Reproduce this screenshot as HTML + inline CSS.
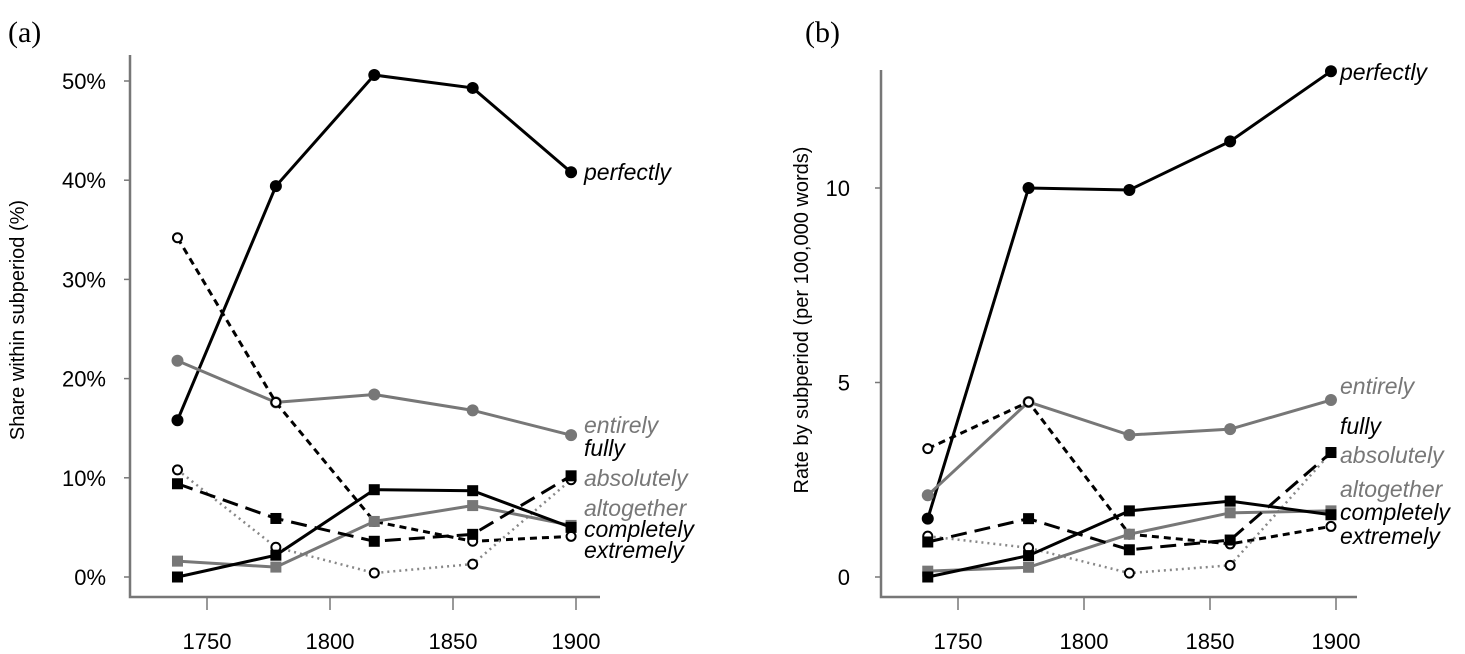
<!DOCTYPE html>
<html><head><meta charset="utf-8"><style>
body{margin:0;background:#fff;}
svg{display:block;font-family:"Liberation Sans",sans-serif;}
</style></head><body>
<svg id="c" width="1465" height="654"></svg>
<script>
const years=[1738,1778,1818,1858,1898];
const tickYears=[1750,1800,1850,1900];
const leftTicks=[0,10,20,30,40,50];
const rightTicks=[0,5,10];
const perfectlyA=[15.8,39.4,50.6,49.3,40.8];
const entirelyA=[21.8,17.6,18.4,16.8,14.3];
const fullyA=[34.2,17.6,5.6,3.6,4.1];
const absolutelyA=[10.8,3.0,0.4,1.3,9.8];
const altogetherA=[1.6,1.0,5.6,7.2,5.2];
const completelyA=[0,2.2,8.8,8.7,5.0];
const extremelyA=[9.4,5.9,3.6,4.3,10.2];
const perfectlyB=[1.5,10.0,9.95,11.2,13.0];
const entirelyB=[2.1,4.5,3.65,3.8,4.55];
const fullyB=[3.3,4.5,1.1,0.85,1.3];
const absolutelyB=[1.05,0.75,0.1,0.3,3.2];
const altogetherB=[0.15,0.25,1.1,1.65,1.7];
const completelyB=[0,0.55,1.7,1.95,1.6];
const extremelyB=[0.9,1.5,0.7,0.95,3.2];

const NS="http://www.w3.org/2000/svg";
const svg=document.getElementById('c');
function mk(t,a,p){const e=document.createElementNS(NS,t);for(const k in a)e.setAttribute(k,a[k]);(p||svg).appendChild(e);return e;}

const styles={
 perfectly:{c:'#000',d:'',m:'dot'},
 entirely:{c:'#777',d:'',m:'dot'},
 fully:{c:'#000',d:'7,5',m:'open'},
 absolutely:{c:'#888',d:'2,4',m:'open'},
 altogether:{c:'#777',d:'',m:'sq'},
 completely:{c:'#000',d:'',m:'sq'},
 extremely:{c:'#000',d:'16,8',m:'sq'}
};

function panel(cfg){
 const g=mk('g',{});
 
 
 const X=y=>cfg.x0+(y-1750)*cfg.xs;
 const Y=v=>cfg.y0-v*cfg.ys;
 const ax=mk('path',{d:`M${cfg.ax},${cfg.top} V597 H${cfg.axEnd}`,stroke:'#777','stroke-width':2.5,fill:'none'},g);
 
 
 tickYears.forEach(t=>{
  mk('line',{x1:X(t),x2:X(t),y1:597,y2:610,stroke:'#777','stroke-width':1.5},g);
  const tx=mk('text',{x:X(t),y:649,'text-anchor':'middle','font-size':22},g);
  tx.textContent=t;
  
  
 });
 cfg.ticks.forEach(t=>{
  mk('line',{x1:cfg.ax-6,x2:cfg.ax,y1:Y(t),y2:Y(t),stroke:'#777','stroke-width':1.5},g);
  const tx=mk('text',{x:cfg.tlx,y:Y(t)+8,'text-anchor':'end','font-size':22},g);
  tx.textContent=t+cfg.suf;
  
  
 });
 const yt=mk('text',{transform:`translate(${cfg.titleX},${cfg.titleY}) rotate(-90)`,'text-anchor':'middle','font-size':20},g);
 yt.textContent=cfg.title;
 
 
 const pl=mk('text',{x:cfg.px,y:42,'font-size':30,'font-family':'"Liberation Serif",serif'},g);
 pl.textContent=cfg.panelLabel;
 
 
 cfg.series.forEach(([nm,arr])=>{
  const s=styles[nm];
  const sg=mk('g',{},g);
  
  
  const pts=arr.map((v,i)=>X(years[i])+','+Y(v)).join(' ');
  const attrs={points:pts,fill:'none',stroke:s.c,'stroke-width':nm=='absolutely'?2.5:3};
  if(s.d)attrs['stroke-dasharray']=s.d;
  mk('polyline',attrs,sg);
  arr.forEach((v,i)=>{
   const cx=X(years[i]),cy=Y(v);let m;
   if(s.m=='dot')m=mk('circle',{cx,cy,r:6,fill:s.c},sg);
   else if(s.m=='open')m=mk('circle',{cx,cy,r:4.5,fill:'#fff',stroke:'#000','stroke-width':2},sg);
   else m=mk('rect',{x:cx-5.5,y:cy-5.5,width:11,height:11,fill:s.c},sg);
   
   
  });
 });
 cfg.labels.forEach(([nm,y,col])=>{
  const t=mk('text',{x:cfg.lx,y:y,'font-size':23,'font-style':'italic',fill:col},g);
  t.textContent=nm;
  
  
 });
}
panel({name:'panel-a',x0:207,xs:123/50,y0:577,ys:9.92,ax:130,axEnd:600,top:55,ticks:leftTicks,suf:'%',tlx:106,
 title:'Share within subperiod (%)',titleX:24,titleY:320,panelLabel:'(a)',px:8,lx:584,
 series:[['perfectly',perfectlyA],['entirely',entirelyA],['fully',fullyA],['absolutely',absolutelyA],['altogether',altogetherA],['completely',completelyA],['extremely',extremelyA]],
 labels:[['perfectly',180,'#000'],['entirely',433,'#777'],['fully',456,'#000'],['absolutely',486,'#777'],['altogether',516,'#777'],['completely',537,'#000'],['extremely',558,'#000']]});
panel({name:'panel-b',x0:958,xs:126/50,y0:577,ys:38.9,ax:881,axEnd:1357,top:70,ticks:rightTicks,suf:'',tlx:850,
 title:'Rate by subperiod (per 100,000 words)',titleX:808,titleY:320,panelLabel:'(b)',px:805,lx:1340,
 series:[['perfectly',perfectlyB],['entirely',entirelyB],['fully',fullyB],['absolutely',absolutelyB],['altogether',altogetherB],['completely',completelyB],['extremely',extremelyB]],
 labels:[['perfectly',80,'#000'],['entirely',394,'#777'],['fully',434,'#000'],['absolutely',463,'#777'],['altogether',497,'#777'],['completely',520,'#000'],['extremely',544,'#000']]});
</script>
</body></html>
